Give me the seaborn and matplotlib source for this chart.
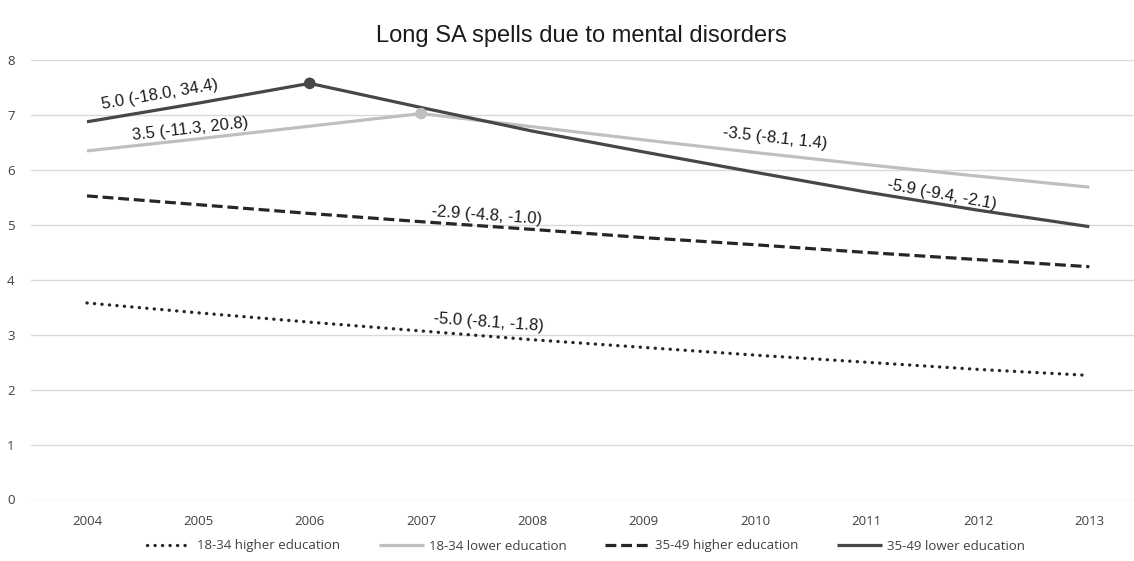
import matplotlib
matplotlib.use("Agg")
import matplotlib.pyplot as plt
import seaborn as sns
import pandas as pd
from matplotlib import font_manager

# ---- data ----
years = [2004, 2005, 2006, 2007, 2008, 2009, 2010, 2011, 2012, 2013]
y_ticks = [0, 1, 2, 3, 4, 5, 6, 7, 8]
series_names = ["18-34 higher education", "18-34 lower education",
                "35-49 higher education", "35-49 lower education"]
hi1834_vals = [3.58, 3.40, 3.23, 3.07, 2.91, 2.77, 2.63, 2.50, 2.37, 2.26]
lo1834_vals = [6.35, 6.57, 6.80, 7.03, 6.79, 6.55, 6.32, 6.10, 5.89, 5.69]
hi3549_vals = [5.53, 5.37, 5.21, 5.06, 4.92, 4.77, 4.64, 4.50, 4.37, 4.24]
lo3549_vals = [6.88, 7.22, 7.58, 7.14, 6.71, 6.33, 5.96, 5.60, 5.27, 4.97]
# joinpoints marked with a dot
lo1834_joint_year = 2007
lo3549_joint_year = 2006
# segment annotations (APC with CI)
ann_texts = ["5.0 (-18.0, 34.4)", "3.5 (-11.3, 20.8)", "-3.5 (-8.1, 1.4)",
             "-5.9 (-9.4, -2.1)", "-2.9 (-4.8, -1.0)", "-5.0 (-8.1, -1.8)"]
title = "Long SA spells due to mental disorders"

# ---- layout / style ----
ann_pos = [(2004.65, 7.37, 9.8), (2004.93, 6.74, 6.3), (2010.18, 6.58, -6.3),
           (2011.68, 5.55, -10.4), (2007.59, 5.18, -4.1), (2007.61, 3.22, -4.1)]

sns.set_theme(style="white")
avail = {f.name for f in font_manager.fontManager.ttflist}
narrow = "Liberation Sans Narrow" if "Liberation Sans Narrow" in avail else "Open Sans"
plt.rcParams["font.family"] = ["Liberation Sans", "DejaVu Sans"]

W, H = 1134, 561
fig = plt.figure(figsize=(W / 100, H / 100), dpi=100)
left, right = 31.3 / W, 1145 / W
bottom, top = (H - 499.5) / H, (H - 60.3) / H
ax = fig.add_axes([left, bottom, right - left, top - bottom])

all_vals = [hi1834_vals, lo1834_vals, hi3549_vals, lo3549_vals]
df = pd.concat([pd.DataFrame({"year": years, "value": v, "series": n})
                for n, v in zip(series_names, all_vals)], ignore_index=True)

styles = {
    "18-34 higher education": dict(color="#262626", lw=2.4, dashes=(0.05, 2.2), cap="round"),
    "18-34 lower education": dict(color="#bfbfbf", lw=2.3, dashes=None, cap="butt"),
    "35-49 higher education": dict(color="#262626", lw=2.3, dashes=(3.4, 1.5), cap="butt"),
    "35-49 lower education": dict(color="#474747", lw=2.3, dashes=None, cap="butt"),
}

for name in series_names:
    st = styles[name]
    sub = df[df["series"] == name]
    sns.lineplot(data=sub, x="year", y="value", ax=ax, color=st["color"],
                 lw=st["lw"], label=name, legend=False, zorder=3)
    line = ax.get_lines()[-1]
    if st["dashes"] is not None:
        line.set_dashes(st["dashes"])
        line.set_dash_capstyle(st["cap"])
    line.set_solid_capstyle("butt")
    line.set_solid_joinstyle("round")

j1 = df[(df["series"] == series_names[1]) & (df["year"] == lo1834_joint_year)]
j3 = df[(df["series"] == series_names[3]) & (df["year"] == lo3549_joint_year)]
sns.scatterplot(data=j1, x="year", y="value", ax=ax, color="#bfbfbf",
                s=70, edgecolor="none", zorder=4, legend=False)
sns.scatterplot(data=j3, x="year", y="value", ax=ax, color="#474747",
                s=70, edgecolor="none", zorder=4, legend=False)

for txt, (x, y, r) in zip(ann_texts, ann_pos):
    ax.text(x, y, txt, rotation=r, rotation_mode="anchor", ha="center",
            va="center", fontsize=12, color="#1a1a1a", zorder=5)

ax.set_xlim(2003.5, 2013.5)
ax.set_ylim(0, 8)
ax.set_xticks(years)
ax.set_xticklabels([str(y) for y in years], fontfamily=narrow, fontsize=9.5, color="#404040")
ax.set_yticks(y_ticks)
ax.set_yticklabels([str(v) for v in y_ticks], fontfamily=narrow, fontsize=9.5, color="#404040")
ax.tick_params(axis="x", length=0, pad=11)
ax.tick_params(axis="y", length=0, pad=12)
ax.set_xlabel("")
ax.set_ylabel("")
ax.yaxis.grid(True, color="#d9d9d9", lw=1.0)
ax.xaxis.grid(False)
for s in ax.spines.values():
    s.set_visible(False)

fig.text(581.7 / W, (H - 36) / H, title, ha="center", va="center", fontsize=17, color="#1a1a1a")

handles = ax.get_lines()[:4]
leg = fig.legend(handles, series_names, loc="center", bbox_to_anchor=(586 / W, (H - 546) / H),
                 ncol=4, frameon=False, handlelength=3.4, handletextpad=0.4,
                 columnspacing=2.9, prop={"family": narrow, "size": 9.5})
for t in leg.get_texts():
    t.set_color("#404040")

fig.savefig("out.png", dpi=100)
